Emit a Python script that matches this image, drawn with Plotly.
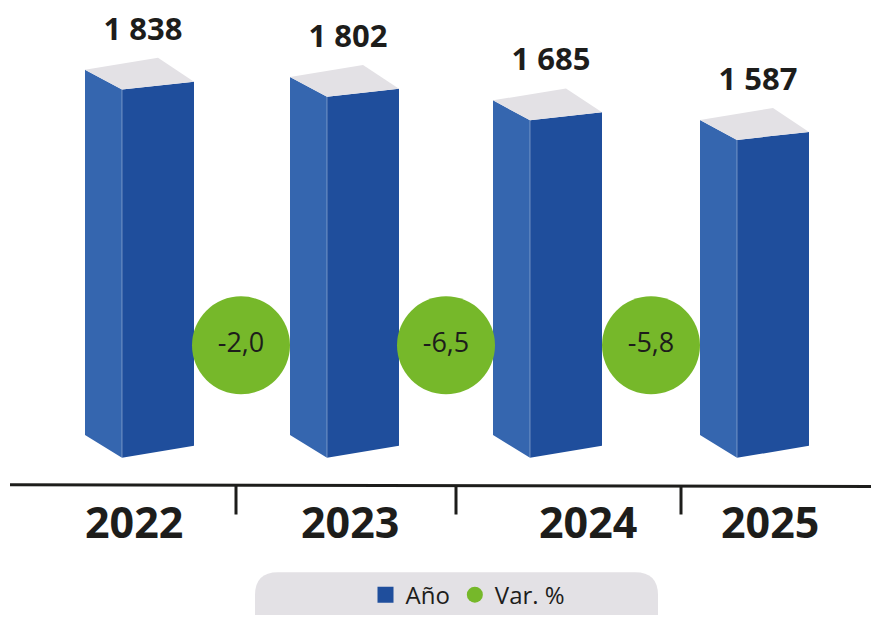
import plotly.graph_objects as go

# datos
years = ["2022", "2023", "2024", "2025"]
totals = [1838, 1802, 1685, 1587]
total_labels = ["1 838", "1 802", "1 685", "1 587"]
var_pct = [-2.0, -6.5, -5.8]
var_labels = ["-2,0", "-6,5", "-5,8"]

W, H = 879, 618
OFF = 8                  # page body margin, the figure starts 8px in
BASE_PX = 460            # pixel row of the bar base
UPP = 1838 / 370         # value units per pixel (vertical)

FRONT = "#1F4E9C"
SIDE = "#3566AF"
TOP = "#E3E1E5"
GREEN = "#76B82A"
INK = "#1D1D1B"


def py(p):
    # pixel offset -> value units
    return p * UPP


def row(pix):
    # pixel row of the page -> value units
    return (BASE_PX - pix) * UPP


bar_left = [122, 327, 530, 737]   # front face left edge (x axis in px units)
FW, SW = 72, 37
year_x = [134, 350, 588, 770]
circle_x = [241, 446, 651]
tick_x = [236, 456, 681]

fig = go.Figure()

for xl, v in zip(bar_left, totals):
    # cara lateral
    fig.add_trace(go.Scatter(
        x=[xl - SW, xl, xl, xl - SW, xl - SW],
        y=[py(23), 0, v, v + py(20), py(23)],
        fill="toself", fillcolor=SIDE, mode="lines",
        line=dict(width=0), hoverinfo="skip", showlegend=False))
    # cara frontal
    fig.add_trace(go.Scatter(
        x=[xl, xl + FW, xl + FW, xl, xl],
        y=[0, py(12), v + py(8), v, 0],
        fill="toself", fillcolor=FRONT, mode="lines",
        line=dict(width=0), hoverinfo="skip", showlegend=False))
    # tapa
    fig.add_trace(go.Scatter(
        x=[xl, xl - SW, xl + 36, xl + FW, xl],
        y=[v, v + py(20), v + py(32), v + py(8), v],
        fill="toself", fillcolor=TOP, mode="lines",
        line=dict(width=0), hoverinfo="skip", showlegend=False))
    # arista
    fig.add_trace(go.Scatter(
        x=[xl, xl], y=[0, v], mode="lines",
        line=dict(color="rgba(255,255,255,0.35)", width=1),
        hoverinfo="skip", showlegend=False))

# etiquetas de valores
fig.add_trace(go.Scatter(
    x=[xl + 21 for xl in bar_left],
    y=[v + py(58) for v in totals],
    mode="text", text=total_labels,
    textfont=dict(family="Open Sans", size=31, color=INK, weight="bold"),
    hoverinfo="skip", showlegend=False))

# variaciones
fig.add_trace(go.Scatter(
    x=circle_x, y=[row(347)] * len(var_pct),
    mode="markers+text", text=var_labels, customdata=var_pct,
    marker=dict(size=98, color=GREEN, line=dict(width=0)),
    textposition="middle center",
    textfont=dict(family="Open Sans", size=27, color=INK),
    hovertemplate="%{customdata}<extra></extra>", showlegend=False))

# leyenda
fig.add_trace(go.Scatter(
    x=[None], y=[None], mode="markers", name="Año",
    marker=dict(symbol="square", size=16, color=FRONT)))
fig.add_trace(go.Scatter(
    x=[None], y=[None], mode="markers", name="Var. %",
    marker=dict(symbol="circle", size=16, color=GREEN)))

# eje
fig.add_shape(type="line", xref="x", yref="y",
              x0=10, x1=W, y0=row(487), y1=row(489),
              line=dict(color=INK, width=3))
for tx in tick_x:
    fig.add_shape(type="line", xref="x", yref="y",
                  x0=tx, x1=tx, y0=row(488), y1=row(517),
                  line=dict(color=INK, width=3))

for yx, yr in zip(year_x, years):
    fig.add_annotation(x=yx, y=row(524), xref="x", yref="y",
                       text=yr, showarrow=False,
                       font=dict(family="Open Sans", size=43, color=INK, weight="bold"))

# fondo redondeado de la leyenda
x0, x1, r = 255, 658, 23
t0, t1 = 575, 650
rr = py(r)
y0, y1 = row(t1), row(t0)
path = (f"M {x0 + r} {y1} L {x1 - r} {y1} Q {x1} {y1} {x1} {y1 - rr} "
        f"L {x1} {y0 + rr} Q {x1} {y0} {x1 - r} {y0} L {x0 + r} {y0} "
        f"Q {x0} {y0} {x0} {y0 + rr} L {x0} {y1 - rr} Q {x0} {y1} {x0 + r} {y1} Z")
fig.add_shape(type="path", xref="x", yref="y", layer="below",
              path=path, line=dict(width=0), fillcolor=TOP)

fig.update_layout(
    width=W - OFF, height=H - OFF,
    margin=dict(l=0, r=0, t=0, b=0),
    paper_bgcolor="white", plot_bgcolor="rgba(0,0,0,0)",
    xaxis=dict(range=[OFF, W], visible=False, fixedrange=True),
    yaxis=dict(range=[row(H), row(OFF)], visible=False, fixedrange=True),
    legend=dict(orientation="h", x=(468 - OFF) / (W - OFF), xanchor="center",
                y=1 - (598 - OFF) / (H - OFF), yanchor="middle",
                bgcolor="rgba(0,0,0,0)", itemwidth=30,
                font=dict(family="Open Sans", size=24, color=INK)),
)

fig.write_html("out.html")
